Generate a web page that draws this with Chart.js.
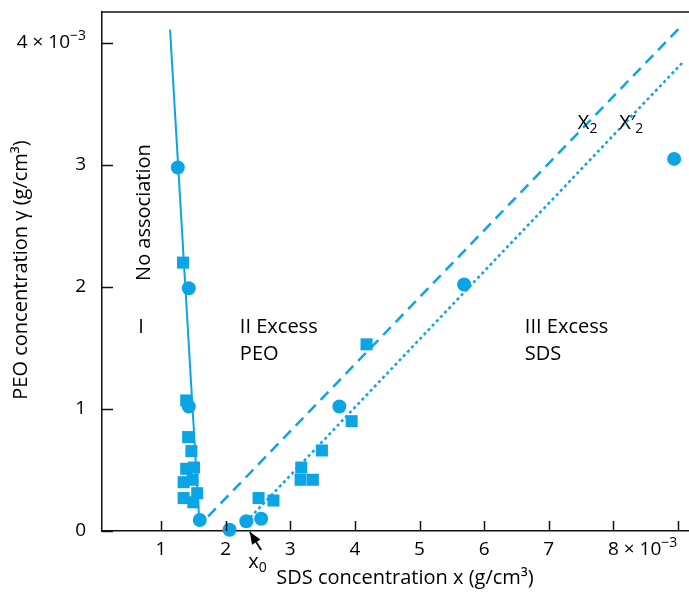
<!DOCTYPE html>
<html>
<head>
<meta charset="utf-8">
<script src="https://cdn.jsdelivr.net/npm/chart.js@4.4.1/dist/chart.umd.min.js"></script>
<style>
html,body{margin:0;padding:0;background:#fff;}
canvas{display:block;}
</style>
</head>
<body>
<canvas id="c" width="689" height="592"></canvas>
<script>
// ---- data ----
const circleX = [1.26, 1.43, 1.43, 1.60, 2.06, 2.32, 2.55, 3.76, 5.69, 8.94];
const circleY = [2.98, 1.99, 1.02, 0.09, 0.01, 0.08, 0.10, 1.02, 2.02, 3.05];
const squareX = [1.34, 1.39, 1.42, 1.47, 1.39, 1.51, 1.35, 1.49, 1.35, 1.56, 1.50, 2.51, 2.74, 3.17, 3.16, 3.35, 3.49, 3.95, 4.18];
const squareY = [2.20, 1.07, 0.77, 0.655, 0.51, 0.52, 0.40, 0.42, 0.27, 0.31, 0.235, 0.27, 0.25, 0.52, 0.42, 0.42, 0.66, 0.90, 1.53];
const noAssocX = [1.14, 1.59];
const noAssocY = [4.11, 0.10];
const x2X = [1.73, 9.07];
const x2Y = [0.12, 4.15];
const x2pX = [2.38, 9.07];
const x2pY = [0.11, 3.84];
const xTickValues = [1, 2, 3, 4, 5, 6, 7, 8, 9];
const xTickLabels = ['1', '2', '3', '4', '5', '6', '7', '8', ''];
const yTickValues = [0, 1, 2, 3, 4];
const yTickLabels = ['0', '1', '2', '3', '4'];
const tickExponent = '\u22123';
const xTitle = 'SDS concentration x (g/cm\u00b3)';
const yTitle = 'PEO concentration \u03b3 (g/cm\u00b3)';

const BLUE = '#0ba5e6';
const INK = '#111';
const FONT = '"Open Sans", "Noto Sans", sans-serif';

const pts = (xs, ys) => xs.map((x, i) => ({x, y: ys[i]}));

function drawRich(ctx, segs, x, y, size, align) {
  let total = 0;
  const measured = segs.map(s => {
    const fs = s.k === 'n' ? size : Math.round(size * 0.72);
    ctx.font = fs + 'px ' + FONT;
    const w = ctx.measureText(s.t).width;
    total += w;
    return {s, fs, w};
  });
  let cx = align === 'right' ? x - total : (align === 'center' ? x - total / 2 : x);
  ctx.textAlign = 'left';
  ctx.textBaseline = 'middle';
  for (const m of measured) {
    ctx.font = m.fs + 'px ' + FONT;
    let dy = 0;
    if (m.s.k === 'sup') dy = -size * 0.36;
    if (m.s.k === 'sub') dy = size * 0.28;
    ctx.fillText(m.s.t, cx, y + dy);
    cx += m.w;
  }
}

const decor = {
  id: 'decor',
  afterDraw(chart) {
    const ctx = chart.ctx;
    const xs = chart.scales.x, ys = chart.scales.y;
    const a = chart.chartArea;
    const px = v => xs.getPixelForValue(v);
    const py = v => ys.getPixelForValue(v);
    ctx.save();
    ctx.strokeStyle = INK;
    ctx.fillStyle = '#000';
    ctx.lineWidth = 1.5;
    ctx.beginPath();
    ctx.moveTo(a.left, a.top);
    ctx.lineTo(a.right, a.top);
    ctx.stroke();
    ctx.beginPath();
    xTickValues.forEach(v => { const p = Math.round(px(v)) + 0.5; ctx.moveTo(p, a.bottom); ctx.lineTo(p, a.bottom - 10); });
    yTickValues.forEach(v => { const p = Math.round(py(v)) + 0.5; ctx.moveTo(a.left, p); ctx.lineTo(a.left + 11, p); });
    ctx.stroke();
    const TS = 19;
    xTickValues.forEach((v, i) => {
      const lab = xTickLabels[i];
      if (!lab) return;
      if (i === xTickLabels.length - 2) {
        ctx.font = TS + 'px ' + FONT;
        const w0 = ctx.measureText(lab).width;
        drawRich(ctx, [{t: lab + ' \u00d7 10', k: 'n'}, {t: tickExponent, k: 'sup'}], px(v) - w0 / 2, a.bottom + 19, TS, 'left');
      } else {
        drawRich(ctx, [{t: lab, k: 'n'}], px(v), a.bottom + 19, TS, 'center');
      }
    });
    yTickValues.forEach((v, i) => {
      const lab = yTickLabels[i];
      if (i === yTickLabels.length - 1) {
        drawRich(ctx, [{t: lab + ' \u00d7 10', k: 'n'}, {t: tickExponent, k: 'sup'}], a.left - 16, py(v), TS, 'right');
      } else {
        drawRich(ctx, [{t: lab, k: 'n'}], a.left - 16, py(v), TS, 'right');
      }
    });
    ctx.font = '20px ' + FONT;
    ctx.textAlign = 'center';
    ctx.textBaseline = 'middle';
    ctx.fillText(xTitle, 405, 578);
    ctx.save();
    ctx.translate(21, 270);
    ctx.rotate(-Math.PI / 2);
    ctx.fillText(yTitle, 0, 0);
    ctx.restore();
    ctx.save();
    ctx.translate(px(0.737), py(2.61));
    ctx.rotate(-Math.PI / 2);
    ctx.font = '20px ' + FONT;
    ctx.textAlign = 'center';
    ctx.fillText('No association', 0, 0);
    ctx.restore();
    const LS = 20;
    drawRich(ctx, [{t: 'I', k: 'n'}], px(0.69), py(1.672), LS, 'center');
    drawRich(ctx, [{t: 'II Excess', k: 'n'}], px(2.22), py(1.672), LS, 'left');
    drawRich(ctx, [{t: 'PEO', k: 'n'}], px(2.22), py(1.45), LS, 'left');
    drawRich(ctx, [{t: 'III Excess', k: 'n'}], px(6.63), py(1.672), LS, 'left');
    drawRich(ctx, [{t: 'SDS', k: 'n'}], px(6.63), py(1.45), LS, 'left');
    drawRich(ctx, [{t: 'X', k: 'n'}, {t: '2', k: 'sub'}], px(7.45), py(3.34), LS, 'left');
    drawRich(ctx, [{t: 'X\u2032', k: 'n'}, {t: '2', k: 'sub'}], px(8.09), py(3.34), LS, 'left');
    drawRich(ctx, [{t: 'x', k: 'n'}, {t: '0', k: 'sub'}], px(2.35), py(-0.26), LS, 'left');
    const tx = px(2.375), ty = py(0) + 1;
    const sx = px(2.55), sy = py(-0.155);
    ctx.lineWidth = 1.8;
    ctx.beginPath();
    ctx.moveTo(sx, sy);
    ctx.lineTo(tx, ty);
    ctx.stroke();
    const ang = Math.atan2(ty - sy, tx - sx);
    const L = 12, W = 5;
    ctx.beginPath();
    ctx.moveTo(tx, ty);
    ctx.lineTo(tx - L * Math.cos(ang) + W * Math.sin(ang), ty - L * Math.sin(ang) - W * Math.cos(ang));
    ctx.lineTo(tx - L * Math.cos(ang) - W * Math.sin(ang), ty - L * Math.sin(ang) + W * Math.cos(ang));
    ctx.closePath();
    ctx.fill();
    ctx.restore();
  }
};

new Chart(document.getElementById('c'), {
  type: 'scatter',
  data: {
    datasets: [
      {label: 'No association', data: pts(noAssocX, noAssocY), showLine: true, borderColor: BLUE, borderWidth: 2, pointRadius: 0, clip: false},
      {label: 'X2', data: pts(x2X, x2Y), showLine: true, borderColor: BLUE, borderWidth: 2.5, borderDash: [11, 7], pointRadius: 0, clip: false},
      {label: "X'2", data: pts(x2pX, x2pY), showLine: true, borderColor: BLUE, borderWidth: 2.5, borderDash: [3, 3], pointRadius: 0, clip: false},
      {label: 'circles', data: pts(circleX, circleY), pointStyle: 'circle', pointRadius: 7, backgroundColor: BLUE, borderColor: BLUE, borderWidth: 0, clip: false},
      {label: 'squares', data: pts(squareX, squareY), pointStyle: 'rect', pointRadius: 8.5, backgroundColor: BLUE, borderColor: BLUE, borderWidth: 0, clip: false}
    ]
  },
  options: {
    responsive: false,
    animation: false,
    devicePixelRatio: 1,
    layout: {autoPadding: false, padding: {top: 12, right: 0, left: 0, bottom: 0}},
    plugins: {legend: {display: false}, tooltip: {enabled: false}},
    scales: {
      x: {
        type: 'linear', min: 0.087, max: 9.17,
        afterFit(s) { s.height = 61; },
        ticks: {display: false},
        grid: {display: false, drawTicks: false},
        border: {display: true, color: INK, width: 1.5}
      },
      y: {
        type: 'linear', min: 0, max: 4.254,
        afterFit(s) { s.width = 102; },
        ticks: {display: false},
        grid: {display: false, drawTicks: false},
        border: {display: true, color: INK, width: 1.5}
      }
    }
  },
  plugins: [decor]
});
</script>
</body>
</html>
